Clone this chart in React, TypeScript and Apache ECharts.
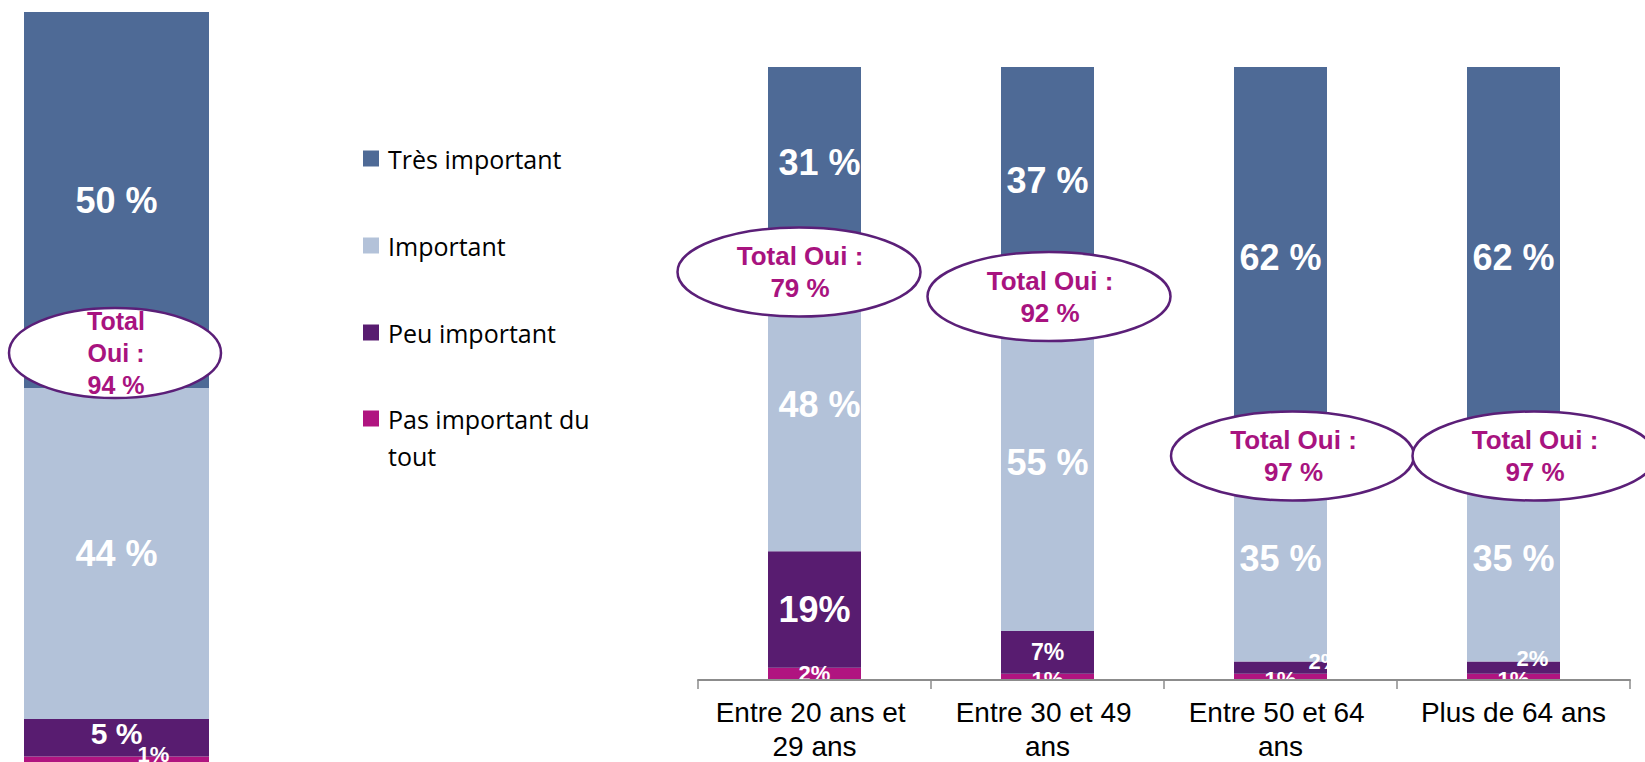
import React, { useEffect, useRef } from "react";
import * as echarts from "echarts";

// ---- Data ----
const seriesNames = ["Très important", "Important", "Peu important", "Pas important du tout"];
const categories = ["Entre 20 ans et 29 ans", "Entre 30 et 49 ans", "Entre 50 et 64 ans", "Plus de 64 ans"];
const overallValues = [50, 44, 5, 1];
const tresImportant = [31, 37, 62, 62];
const important = [48, 55, 35, 35];
const peuImportant = [19, 7, 2, 2];
const pasImportant = [2, 1, 1, 1];
const overallTotal = 94;
const totalsByAge = [79, 92, 97, 97];

// ---- Styles ----
const colors = ["#4E6A96", "#B3C2D9", "#581C70", "#B01480"];
const FONT = "'Liberation Sans', Arial, sans-serif";
const ellipseStroke = "#5B1F78";
const ellipseText = "#A8137F";

export default function App() {
  const ref = useRef<HTMLDivElement>(null);

  useEffect(() => {
    if (!ref.current) return;
    const chart = echarts.init(ref.current, null, { renderer: "svg" });

    const baseLabel = {
      show: true,
      position: "inside",
      color: "#fff",
      fontWeight: "bold",
      fontFamily: FONT,
    };

    const leftLabelCfg = [
      { fontSize: 36, suffix: " %", offset: [0, 0] },
      { fontSize: 36, suffix: " %", offset: [0, 0] },
      { fontSize: 30, suffix: " %", offset: [0, -4] },
      { fontSize: 22, suffix: "%", offset: [37, -6] },
    ];

    // stack from bottom: Pas important -> Peu -> Important -> Très
    const order = [3, 2, 1, 0];

    const leftSeries = order.map((k) => ({
      name: seriesNames[k],
      type: "bar",
      stack: "overall",
      xAxisIndex: 0,
      yAxisIndex: 0,
      barWidth: "100%",
      itemStyle: { color: colors[k] },
      label: {
        ...baseLabel,
        fontSize: leftLabelCfg[k].fontSize,
        offset: leftLabelCfg[k].offset,
        formatter: (p: any) => `${p.value}${leftLabelCfg[k].suffix}`,
      },
      data: [overallValues[k]],
    }));

    const rightData = [tresImportant, important, peuImportant, pasImportant];
    // per-bar label tweaks (font size, suffix, offset)
    const rightLabelCfg = [
      [
        { fs: 36, s: " %", o: [5, 0] },
        { fs: 36, s: " %", o: [0, 0] },
        { fs: 36, s: " %", o: [0, 0] },
        { fs: 36, s: " %", o: [0, 0] },
      ],
      [
        { fs: 36, s: " %", o: [5, 0] },
        { fs: 36, s: " %", o: [0, 0] },
        { fs: 36, s: " %", o: [0, 4] },
        { fs: 36, s: " %", o: [0, 4] },
      ],
      [
        { fs: 36, s: "%", o: [0, 0] },
        { fs: 23, s: "%", o: [0, 0] },
        { fs: 22, s: "%", o: [44, -6] },
        { fs: 22, s: "%", o: [19, -9] },
      ],
      [
        { fs: 22, s: "%", o: [0, 0] },
        { fs: 22, s: "%", o: [0, 3] },
        { fs: 22, s: "%", o: [0, 3] },
        { fs: 22, s: "%", o: [0, 3] },
      ],
    ];

    const rightSeries = order.map((k) => ({
      name: seriesNames[k],
      type: "bar",
      stack: "age",
      xAxisIndex: 1,
      yAxisIndex: 1,
      barWidth: 93,
      z: 2,
      itemStyle: { color: colors[k] },
      data: rightData[k].map((v, i) => ({
        value: v,
        label: {
          ...baseLabel,
          fontSize: rightLabelCfg[k][i].fs,
          offset: rightLabelCfg[k][i].o,
          formatter: `${v}${rightLabelCfg[k][i].s}`,
        },
      })),
    }));

    const legendText = {
      color: "#000",
      fontSize: 25,
      fontFamily: "'Open Sans', 'Noto Sans', sans-serif",
      lineHeight: 37,
      padding: [0, 0, 0, 4],
    };

    const option: any = {
      animation: false,
      backgroundColor: "#fff",
      grid: [
        { left: 24, top: 12, width: 185, height: 752, outerBoundsMode: "none", containLabel: false },
        { left: 698, top: 67, width: 932, height: 613, outerBoundsMode: "none", containLabel: false },
      ],
      xAxis: [
        { type: "category", gridIndex: 0, data: ["Ensemble"], show: false },
        {
          type: "category",
          gridIndex: 1,
          data: categories,
          z: 10,
          axisLine: { show: true, lineStyle: { color: "#8C8C8C", width: 2 } },
          axisTick: { show: true, length: 9, lineStyle: { color: "#8C8C8C", width: 1.5 } },
          axisLabel: {
            interval: 0,
            color: "#000",
            fontSize: 28,
            lineHeight: 34,
            fontFamily: FONT,
            margin: 15,
            width: 222,
            overflow: "break",
          },
        },
      ],
      yAxis: [
        { type: "value", gridIndex: 0, min: 0, max: 100, show: false },
        { type: "value", gridIndex: 1, min: 0, max: 100, show: false },
      ],
      legend: [
        {
          orient: "vertical",
          left: 363,
          top: 140,
          padding: 0,
          itemWidth: 16,
          itemHeight: 16,
          itemGap: 50,
          icon: "rect",
          selectedMode: false,
          data: seriesNames.slice(0, 3),
          textStyle: legendText,
        },
        {
          orient: "vertical",
          left: 363,
          top: 363,
          padding: 0,
          itemWidth: 16,
          itemHeight: 16,
          icon: "rect",
          selectedMode: false,
          data: [seriesNames[3]],
          formatter: () => "\nPas important du\ntout",
          textStyle: legendText,
        },
      ],
      series: [...leftSeries, ...rightSeries],
    };

    chart.setOption(option);

    // Callout ellipses ("Total Oui")
    const leftX = chart.convertToPixel({ xAxisIndex: 0 }, "Ensemble") as number;
    const ellipseDx = [-15.5, 1.5, 12, 20.5];
    const ellipseCy = [272, 296.5, 456, 456];
    const graphics: any[] = [];
    const addCallout = (cx: number, cy: number, rx: number, ry: number, text: string, fs: number) => {
      graphics.push({
        type: "ellipse",
        z: 100,
        shape: { cx, cy, rx, ry },
        style: { fill: "#fff", stroke: ellipseStroke, lineWidth: 2.5 },
      });
      graphics.push({
        type: "text",
        z: 101,
        x: cx + 1,
        y: cy,
        style: {
          text,
          fill: ellipseText,
          fontSize: fs,
          fontWeight: "bold",
          fontFamily: FONT,
          lineHeight: 32,
          align: "center",
          verticalAlign: "middle",
        },
      });
    };
    addCallout(leftX - 1.5, 353, 106, 45, `Total\nOui :\n${overallTotal} %`, 25);
    totalsByAge.forEach((t, i) => {
      const x = chart.convertToPixel({ xAxisIndex: 1 }, categories[i]) as number;
      addCallout(x + ellipseDx[i], ellipseCy[i], 121.5, 44.5, `Total Oui :\n${t} %`, 26);
    });
    chart.setOption({ graphic: graphics });

    return () => chart.dispose();
  }, []);

  return (
    <div
      ref={ref}
      style={{ position: "absolute", left: 0, top: 0, width: 1645, height: 762 }}
    />
  );
}
